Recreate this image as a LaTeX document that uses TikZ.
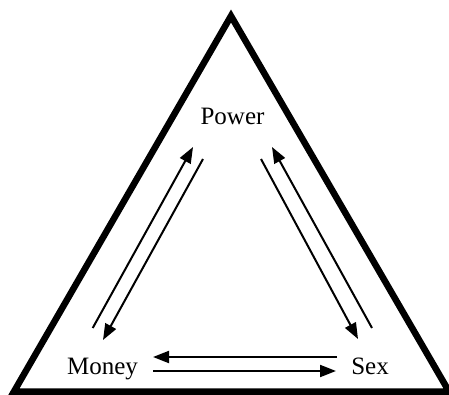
\documentclass[tikz,border=0pt]{standalone}
\usepackage{fontspec}
\setmainfont{Liberation Serif}
\usetikzlibrary{arrows.meta}
\begin{document}
\begin{tikzpicture}[x=1pt,y=-1pt,
  label/.style={anchor=base,inner sep=0pt,font=\fontsize{25}{28}\selectfont},
  frame/.style={line width=6.5pt,line join=miter},
  flow/.style={line width=2pt,-{Triangle[length=16pt,width=12pt]}}]
\useasboundingbox (0,0) rectangle (449,395);
\draw[frame] (231,16) -- (14,391.5) -- (449,391.5) -- cycle;
\node[label] (power) at (232.5,125) {Power};
\node[label] (money) at (102.5,374) {Money};
\node[label] (sex) at (370,374) {Sex};
% left pair
\coordinate (mp1) at (92.7,328);
\coordinate (mp2) at (193,147);
\coordinate (pm1) at (203,159);
\coordinate (pm2) at (103,340);
% right pair
\coordinate (ps1) at (261,159);
\coordinate (ps2) at (358,339);
\coordinate (sp1) at (372,328);
\coordinate (sp2) at (272,147);
% bottom pair
\coordinate (sm1) at (337,357);
\coordinate (sm2) at (153,357);
\coordinate (ms1) at (153,371);
\coordinate (ms2) at (336,371);
\draw[flow] (mp1) -- (mp2);
\draw[flow] (pm1) -- (pm2);
\draw[flow] (ps1) -- (ps2);
\draw[flow] (sp1) -- (sp2);
\draw[flow] (sm1) -- (sm2);
\draw[flow] (ms1) -- (ms2);
\end{tikzpicture}
\end{document}
